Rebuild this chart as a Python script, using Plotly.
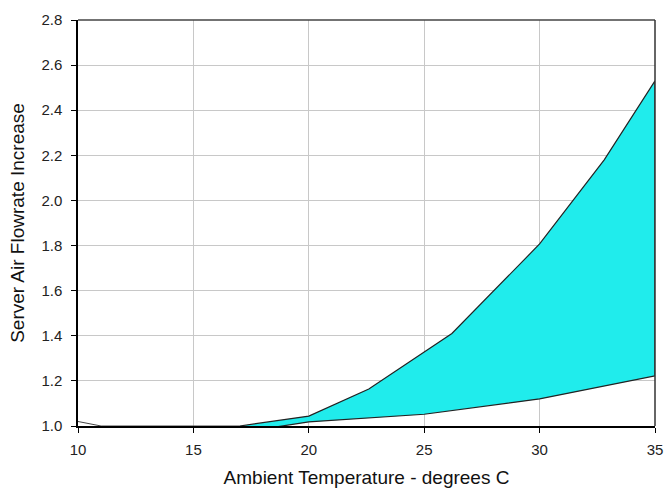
import plotly.graph_objects as go

# Upper boundary of the band (ambient temp, flowrate increase)
upper_x = [17.0, 20.0, 22.6, 26.2, 30.0, 32.8, 35.0]
upper_y = [1.00, 1.044, 1.164, 1.41, 1.807, 2.18, 2.53]
# Lower boundary of the band
lower_x = [17.0, 18.2, 20.0, 25.0, 30.0, 35.0]
lower_y = [1.00, 0.99, 1.018, 1.052, 1.12, 1.222]
# Small segment at the left
left_x = [10.0, 11.0, 17.0]
left_y = [1.02, 1.00, 1.00]

x_ticks = [10, 15, 20, 25, 30, 35]
y_ticks = [1.0, 1.2, 1.4, 1.6, 1.8, 2.0, 2.2, 2.4, 2.6, 2.8]

poly_x = upper_x + lower_x[::-1]
poly_y = upper_y + lower_y[::-1]

fig = go.Figure()
fig.add_trace(go.Scatter(
    x=poly_x, y=poly_y, mode="lines", fill="toself",
    fillcolor="#20ECEC", line=dict(color="#222222", width=1.2),
    hoverinfo="skip", showlegend=False))
fig.add_trace(go.Scatter(
    x=left_x, y=left_y, mode="lines",
    line=dict(color="#444444", width=1), showlegend=False))

font_family = "Liberation Sans, Arial, sans-serif"
fig.update_layout(
    width=665, height=493,
    margin=dict(l=78, r=10, t=20, b=67),
    paper_bgcolor="white", plot_bgcolor="white",
    font=dict(family=font_family, color="#222222"),
    showlegend=False,
    xaxis=dict(
        range=[10, 35], tickvals=x_ticks, ticktext=[str(v) for v in x_ticks],
        automargin=False,
        showgrid=True, gridcolor="#c8c8c8", gridwidth=1,
        showline=True, linecolor="black", linewidth=2,
        ticks="outside", ticklen=5, tickcolor="black", tickwidth=1,
        ticklabelstandoff=4,
        tickfont=dict(size=15, family=font_family, color="#222222"),
        title=dict(text="Ambient Temperature - degrees C",
                   font=dict(size=19, family=font_family, color="#111111"),
                   standoff=14),
        zeroline=False,
    ),
    yaxis=dict(
        range=[1.0, 2.8], tickvals=y_ticks, ticktext=[f"{v:.1f}" for v in y_ticks],
        automargin=False,
        showgrid=True, gridcolor="#c8c8c8", gridwidth=1,
        showline=True, linecolor="black", linewidth=1.5,
        ticks="outside", ticklen=5, tickcolor="black", tickwidth=1,
        ticklabelstandoff=6,
        tickfont=dict(size=15, family=font_family, color="#222222"),
        title=dict(text="Server Air Flowrate Increase",
                   font=dict(size=19, family=font_family, color="#111111"),
                   standoff=12),
        zeroline=False,
    ),
    shapes=[
        dict(type="line", xref="paper", yref="paper", x0=0, x1=1, y0=1, y1=1,
             line=dict(color="#444444", width=1.5)),
        dict(type="line", xref="paper", yref="paper", x0=1, x1=1, y0=0, y1=1,
             line=dict(color="#333333", width=1.5)),
    ],
)

fig.write_html("out.html")
